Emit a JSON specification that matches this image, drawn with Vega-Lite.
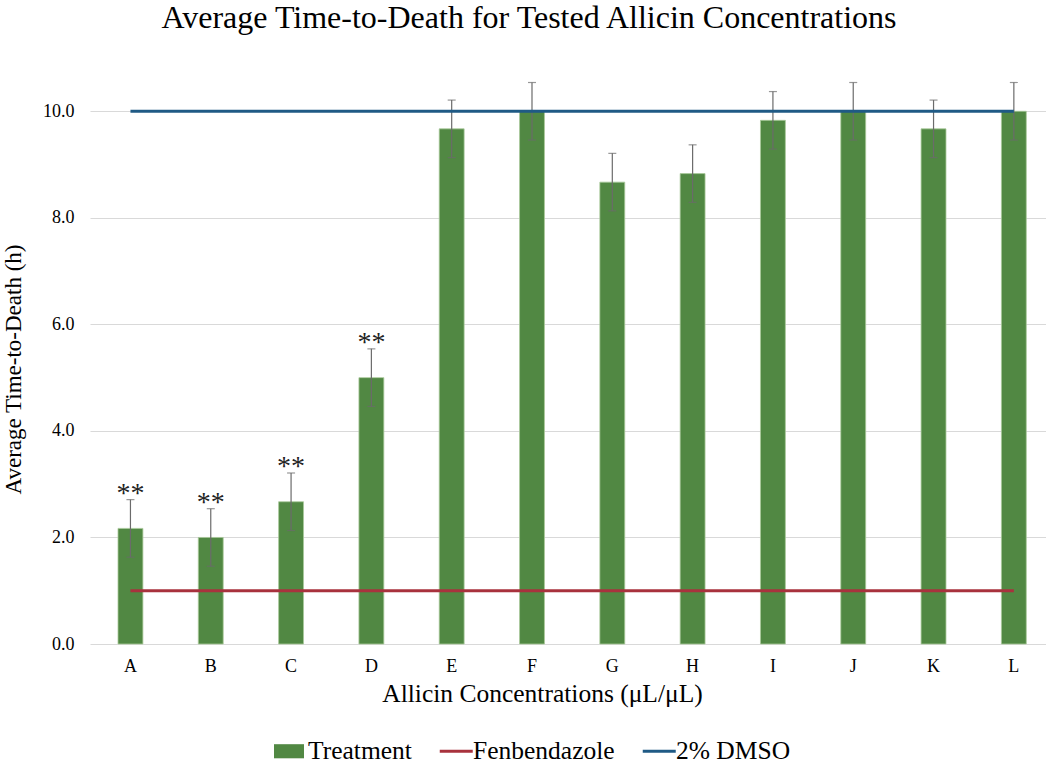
{
  "$schema": "https://vega.github.io/schema/vega-lite/v6.json",
  "autosize": {"type": "none"},
  "width": 956,
  "height": 586,
  "padding": {"left": 90, "top": 58, "right": 0, "bottom": 120},
  "background": "white",
  "title": {
    "text": "Average Time-to-Death for Tested Allicin Concentrations",
    "font": "Liberation Serif",
    "fontSize": 32,
    "fontWeight": "normal",
    "color": "#000000",
    "anchor": "middle",
    "dx": -39,
    "baseline": "alphabetic",
    "offset": -2
  },
  "config": {
    "view": {"stroke": null},
    "font": "Liberation Serif",
    "axis": {"labelFont": "Liberation Serif", "titleFont": "Liberation Serif", "labelColor": "#000000", "titleColor": "#000000", "titleFontWeight": "normal"},
    "legend": {"labelFont": "Liberation Serif", "labelColor": "#000000"}
  },
  "data": {
    "values": [
      {"c": "A", "v": 2.17, "lo": 1.63, "hi": 2.71, "sig": "**"},
      {"c": "B", "v": 2.0, "lo": 1.46, "hi": 2.54, "sig": "**"},
      {"c": "C", "v": 2.67, "lo": 2.13, "hi": 3.21, "sig": "**"},
      {"c": "D", "v": 5.0, "lo": 4.46, "hi": 5.54, "sig": "**"},
      {"c": "E", "v": 9.67, "lo": 9.13, "hi": 10.21, "sig": ""},
      {"c": "F", "v": 10.0, "lo": 9.46, "hi": 10.54, "sig": ""},
      {"c": "G", "v": 8.67, "lo": 8.13, "hi": 9.21, "sig": ""},
      {"c": "H", "v": 8.83, "lo": 8.29, "hi": 9.37, "sig": ""},
      {"c": "I", "v": 9.83, "lo": 9.29, "hi": 10.37, "sig": ""},
      {"c": "J", "v": 10.0, "lo": 9.46, "hi": 10.54, "sig": ""},
      {"c": "K", "v": 9.67, "lo": 9.13, "hi": 10.21, "sig": ""},
      {"c": "L", "v": 10.0, "lo": 9.46, "hi": 10.54, "sig": ""}
    ]
  },
  "encoding": {
    "x": {
      "field": "c",
      "type": "nominal",
      "sort": null,
      "scale": {"paddingInner": 0.69, "paddingOuter": 0.297, "align": 0.587},
      "axis": {
        "title": "Allicin Concentrations (μL/μL)",
        "titleFontSize": 25.5,
        "titlePadding": 6,
        "titleX": 452,
        "labelFontSize": 18,
        "labelAngle": 0,
        "labelPadding": 13,
        "ticks": false,
        "domain": false,
        "grid": false
      }
    }
  },
  "layer": [
    {
      "mark": {"type": "bar", "stroke": "#a9c99b", "strokeWidth": 0.8},
      "encoding": {
        "y": {
          "field": "v",
          "type": "quantitative",
          "scale": {"domain": [0, 11], "nice": false},
          "axis": {
            "title": "Average Time-to-Death (h)",
            "titleFontSize": 23,
            "titlePadding": 17,
            "titleY": 311,
            "labelFontSize": 18,
            "labelPadding": 16,
            "format": ".1f",
            "values": [0, 2, 4, 6, 8, 10],
            "ticks": false,
            "domain": false,
            "grid": true,
            "gridColor": "#d9d9d9",
            "gridWidth": 1
          }
        },
        "color": {
          "datum": "Treatment",
          "type": "nominal",
          "scale": {"domain": ["Treatment", "Fenbendazole", "2% DMSO"], "range": ["#518843", "#a8323d", "#1f5a85"]},
          "legend": {
            "title": null,
            "orient": "none",
            "direction": "horizontal",
            "legendX": 184,
            "legendY": 678,
            "labelFontSize": 25.5,
            "labelOffset": 4,
            "columnPadding": 27,
            "symbolSize": 900,
            "symbolStrokeWidth": 0,
            "symbolType": {"expr": "datum.label == 'Treatment' ? 'M-1,-0.47H1V0.47H-1Z' : 'M-0.95,-0.1H1.25V0.1H-0.95Z'"},
            "symbolOpacity": 1
          }
        }
      }
    },
    {
      "mark": {"type": "rule", "color": "#6b6b6b", "strokeWidth": 1.2},
      "encoding": {
        "y": {"field": "lo", "type": "quantitative"},
        "y2": {"field": "hi"}
      }
    },
    {
      "mark": {"type": "tick", "color": "#6b6b6b", "size": 8, "thickness": 1.2},
      "encoding": {"y": {"field": "lo", "type": "quantitative"}}
    },
    {
      "mark": {"type": "tick", "color": "#6b6b6b", "size": 8, "thickness": 1.2},
      "encoding": {"y": {"field": "hi", "type": "quantitative"}}
    },
    {
      "mark": {"type": "line", "strokeWidth": 3},
      "encoding": {
        "y": {"datum": 1},
        "color": {"datum": "Fenbendazole", "type": "nominal"}
      }
    },
    {
      "mark": {"type": "line", "strokeWidth": 3},
      "encoding": {
        "y": {"datum": 10},
        "color": {"datum": "2% DMSO", "type": "nominal"}
      }
    },
    {
      "mark": {"type": "text", "fontSize": 28, "baseline": "alphabetic", "dy": 2, "color": "#222222", "font": "Liberation Serif"},
      "encoding": {
        "y": {"field": "hi", "type": "quantitative"},
        "text": {"field": "sig"}
      }
    }
  ]
}
